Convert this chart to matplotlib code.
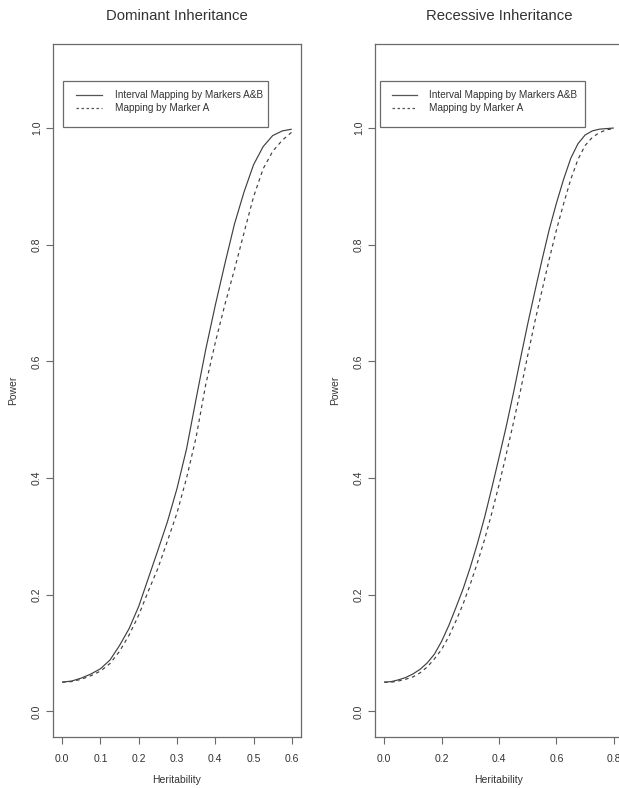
import matplotlib
matplotlib.use("Agg")
import matplotlib.pyplot as plt
from matplotlib.patches import Rectangle
from matplotlib.lines import Line2D

plt.rcParams['font.family'] = ['Liberation Sans', 'DejaVu Sans']

# ---- data ----
h_dom = [0.000, 0.025, 0.050, 0.075, 0.100, 0.125, 0.150, 0.175, 0.200, 0.225, 0.250, 0.275,
         0.300, 0.325, 0.350, 0.375, 0.400, 0.425, 0.450, 0.475, 0.500, 0.525, 0.550, 0.575, 0.600]
dom_ab = [0.050, 0.052, 0.057, 0.064, 0.073, 0.088, 0.113, 0.142, 0.180, 0.228, 0.276, 0.325,
          0.382, 0.450, 0.536, 0.620, 0.696, 0.767, 0.835, 0.890, 0.937, 0.968, 0.987, 0.995, 0.998]
dom_a = [0.050, 0.051, 0.055, 0.061, 0.069, 0.082, 0.103, 0.131, 0.165, 0.206, 0.245, 0.292,
         0.340, 0.400, 0.470, 0.560, 0.632, 0.697, 0.757, 0.820, 0.882, 0.930, 0.960, 0.979, 0.993]

h_rec = [0.000, 0.025, 0.050, 0.075, 0.100, 0.125, 0.150, 0.175, 0.200, 0.225, 0.250, 0.275,
         0.300, 0.325, 0.350, 0.375, 0.400, 0.425, 0.450, 0.475, 0.500, 0.525, 0.550, 0.575,
         0.600, 0.625, 0.650, 0.675, 0.700, 0.725, 0.750, 0.775, 0.800]
rec_ab = [0.050, 0.051, 0.054, 0.058, 0.064, 0.072, 0.083, 0.098, 0.120, 0.147, 0.178, 0.210,
          0.247, 0.288, 0.333, 0.383, 0.435, 0.488, 0.545, 0.605, 0.664, 0.720, 0.774, 0.826,
          0.871, 0.912, 0.948, 0.973, 0.988, 0.995, 0.998, 0.999, 1.000]
rec_a = [0.050, 0.050, 0.052, 0.055, 0.059, 0.066, 0.076, 0.090, 0.106, 0.128, 0.155, 0.184,
         0.218, 0.255, 0.295, 0.340, 0.388, 0.440, 0.494, 0.550, 0.610, 0.668, 0.722, 0.775,
         0.825, 0.870, 0.912, 0.946, 0.970, 0.984, 0.992, 0.997, 0.999]

titles = ["Dominant Inheritance", "Recessive Inheritance"]
legend_labels = ["Interval Mapping by Markers A&B", "Mapping by Marker A"]
xlabel = "Heritability"
ylabel = "Power"
yticks = [0.0, 0.2, 0.4, 0.6, 0.8, 1.0]
xticks_dom = [0.0, 0.1, 0.2, 0.3, 0.4, 0.5, 0.6]
xticks_rec = [0.0, 0.2, 0.4, 0.6, 0.8]

W, H = 619, 788
fig = plt.figure(figsize=(W / 100, H / 100), dpi=100)

line_col = '#404040'
frame_col = '#6a6a6a'
text_col = '#333333'

def make_axes(left_px, xlim, h, ab, a, xticks, title, leg_left_px, leg_right_px, handle_px, text_px):
    ax = fig.add_axes([left_px / W, (H - 737) / H, 248 / W, 693 / H])
    ax.plot(h, ab, color=line_col, lw=0.85, solid_capstyle='butt')
    ax.plot(h, a, color=line_col, lw=0.85, dashes=(3, 3))
    ax.set_xlim(*xlim)
    ax.set_ylim(-0.044, 1.144)
    ax.set_xticks(xticks)
    ax.set_xticklabels([f"{v:.1f}" for v in xticks])
    ax.set_yticks(yticks)
    ax.set_yticklabels([f"{v:.1f}" for v in yticks], rotation=90, va='center')
    for s in ax.spines.values():
        s.set_color(frame_col)
        s.set_linewidth(0.9)
    ax.tick_params(axis='both', direction='out', length=5, width=0.8, color=frame_col,
                   labelsize=7.5, labelcolor=text_col, pad=7)
    ax.tick_params(axis='y', pad=3)
    ax.set_xlabel(xlabel, fontsize=7.5, color=text_col, labelpad=8)
    ax.set_ylabel(ylabel, fontsize=7.5, color=text_col, labelpad=10)
    ax.set_title(title, fontsize=10.7, color=text_col, pad=17.5)
    # legend box (figure pixel geometry)
    rect = Rectangle((leg_left_px / W, (H - 127) / H), (leg_right_px - leg_left_px) / W, 46 / H,
                     transform=fig.transFigure, fill=False, edgecolor=frame_col, lw=0.9)
    fig.add_artist(rect)
    for i, lab in enumerate(legend_labels):
        yy = (H - (95 + 13 * i)) / H
        ln = Line2D([handle_px[0] / W, handle_px[1] / W], [yy, yy], transform=fig.transFigure,
                    color='#555555', lw=0.9, **({} if i == 0 else {'dashes': (2, 2)}))
        fig.add_artist(ln)
        fig.text(text_px / W, yy, lab, fontsize=7.2, color=text_col, va='center', ha='left')
    return ax

make_axes(53, (-0.024, 0.624), h_dom, dom_ab, dom_a, xticks_dom, titles[0], 62.7, 268, (76, 102), 115)
make_axes(375, (-0.032, 0.832), h_rec, rec_ab, rec_a, xticks_rec, titles[1], 379.5, 585, (392, 417), 429)

fig.savefig("out.png", dpi=100)
